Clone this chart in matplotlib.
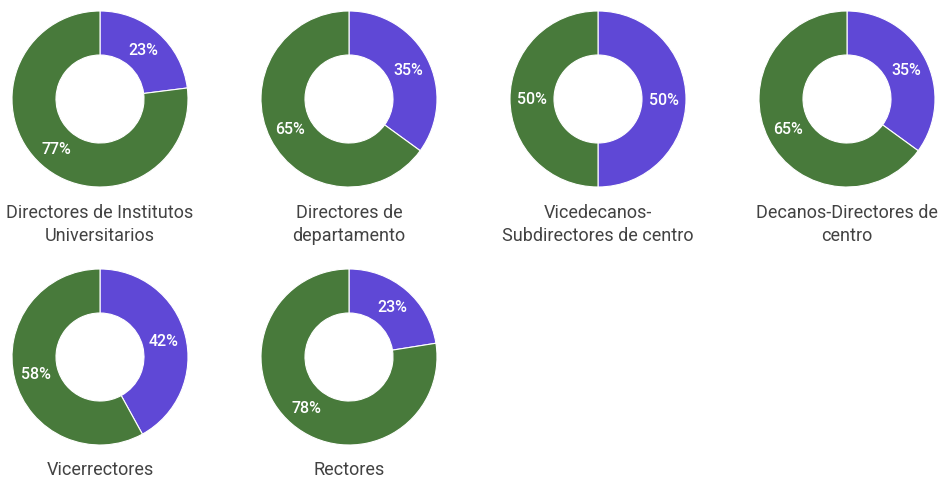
import matplotlib
matplotlib.use("Agg")
import matplotlib.pyplot as plt

plt.rcParams['font.family'] = ['Roboto', 'DejaVu Sans']

titles = ["Directores de Institutos\nUniversitarios",
          "Directores de\ndepartamento",
          "Vicedecanos-\nSubdirectores de centro",
          "Decanos-Directores de\ncentro",
          "Vicerrectores",
          "Rectores"]
purple_vals = [23, 35, 50, 35, 42, 22.5]
green_vals = [77, 65, 50, 65, 58, 77.5]
purple_lbls = ["23%", "35%", "50%", "35%", "42%", "23%"]
green_lbls = ["77%", "65%", "50%", "65%", "58%", "78%"]

PURPLE = "#5f48d6"
GREEN = "#487a3b"

W, H = 940, 481
fig = plt.figure(figsize=(W / 100, H / 100), dpi=100)

centers = [(100, 100), (349, 100), (598, 100), (847, 100), (100, 358), (349, 358)]
R = 88

for i, (cx, cy) in enumerate(centers):
    ax = fig.add_axes([(cx - R) / W, 1 - (cy + R) / H, 2 * R / W, 2 * R / H])
    wedges, texts = ax.pie([purple_vals[i], green_vals[i]],
                           colors=[PURPLE, GREEN], startangle=90, counterclock=False,
                           radius=1.0,
                           wedgeprops=dict(width=0.5, edgecolor="white", linewidth=0.8),
                           labels=[purple_lbls[i], green_lbls[i]], labeldistance=0.75)
    for t in texts:
        t.set_color("white")
        t.set_fontsize(11.5)
        t.set_fontweight("medium")
        t.set_ha("center")
        t.set_va("center")
    ax.set_xlim(-1, 1)
    ax.set_ylim(-1, 1)
    ax.set_aspect("equal")
    ax.axis("off")
    ty = 204 if cy < 200 else 461
    fig.text(cx / W, 1 - ty / H, titles[i], ha="center", va="top",
             fontsize=13, color="#424242", linespacing=1.35)

fig.savefig("out.png", dpi=100)
